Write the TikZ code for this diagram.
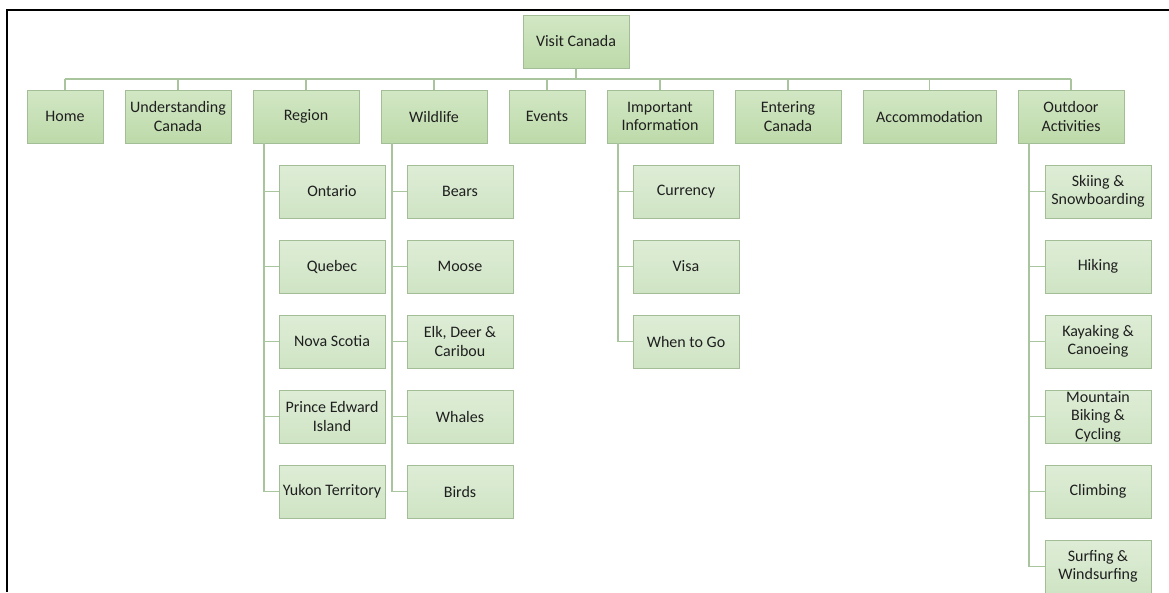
\documentclass[tikz,border=0pt]{standalone}
\usepackage{fontspec}
\setmainfont{Carlito}
\definecolor{boxline}{HTML}{A3BE97}
\definecolor{wire}{HTML}{A9C59D}
\definecolor{topA}{HTML}{D2E7C5}
\definecolor{topB}{HTML}{BDDAA9}
\definecolor{subA}{HTML}{DEEDD6}
\definecolor{subB}{HTML}{CFE4C4}
\begin{document}
\begin{tikzpicture}[x=1pt,y=-1pt,
  every node/.style={font=\fontsize{16}{18.5}\selectfont, text=black!88, align=center, inner sep=0pt},
  topbox/.style={draw=boxline, line width=1pt, top color=topA, bottom color=topB, minimum height=53pt, minimum width=106pt},
  subbox/.style={draw=boxline, line width=1pt, top color=subA, bottom color=subB, minimum height=53pt, minimum width=106pt},
  link/.style={draw=wire, line width=1.6pt}]
\useasboundingbox (0,0) rectangle (1169,592);
% frame edges
\draw[line width=2pt] (7,592) -- (7,10) -- (1169,10);

% root
\node[topbox] (root) at (576,41.5) {Visit Canada};

% first level
\node[topbox, minimum width=76pt] (home) at (65,116.5) {Home};
\node[topbox] (underst) at (178,116.5) {Understanding\\Canada};
\node[topbox] (region) at (306,116.5) {Region};
\node[topbox] (wild) at (434,116.5) {Wildlife};
\node[topbox, minimum width=76pt] (events) at (547,116.5) {Events};
\node[topbox] (info) at (660,116.5) {Important\\Information};
\node[topbox] (enter) at (788,116.5) {Entering\\Canada};
\node[topbox, minimum width=133pt] (accom) at (929.5,116.5) {Accommodation};
\node[topbox] (outdoor) at (1071,116.5) {Outdoor\\Activities};

% bus from root to first level
\coordinate (busL) at (65,79);
\coordinate (busR) at (1071,79);
\coordinate (busM) at (576,79);
\draw[link] (root.south) -- (busM);
\draw[link] (busL) -- (busR);
\foreach \n in {home,underst,region,wild,events,info,enter,accom,outdoor}
  \draw[link] (\n.north) -- (\n.north |- busM);

% Region children
\node[subbox] (ont) at (332,191.5) {Ontario};
\node[subbox] (que) at (332,266.5) {Quebec};
\node[subbox] (nova) at (332,341.5) {Nova Scotia};
\node[subbox] (pei) at (332,416.5) {Prince Edward\\Island};
\node[subbox] (yuk) at (332,491.5) {Yukon Territory};

% Wildlife children
\node[subbox] (bears) at (460,191.5) {Bears};
\node[subbox] (moose) at (460,266.5) {Moose};
\node[subbox] (elk) at (460,341.5) {Elk, Deer \&\\Caribou};
\node[subbox] (whales) at (460,416.5) {Whales};
\node[subbox] (birds) at (460,491.5) {Birds};

% Important Information children
\node[subbox] (curr) at (686,191.5) {Currency};
\node[subbox] (visa) at (686,266.5) {Visa};
\node[subbox] (when) at (686,341.5) {When to Go};

% Outdoor Activities children
\node[subbox] (ski) at (1098,191.5) {Skiing \&\\Snowboarding};
\node[subbox] (hike) at (1098,266.5) {Hiking};
\node[subbox] (kayak) at (1098,341.5) {Kayaking \&\\Canoeing};
\node[subbox] (bike) at (1098,416.5) {Mountain\\Biking \&\\Cycling};
\node[subbox] (climb) at (1098,491.5) {Climbing};
\node[subbox] (surf) at (1098,566.5) {Surfing \&\\Windsurfing};

% vertical spines
\coordinate (sR) at (264,143);
\coordinate (sW) at (392,143);
\coordinate (sI) at (618,143);
\coordinate (sO) at (1029,143);
\draw[link] (sR) -- (sR |- yuk.west) -- (yuk.west);
\foreach \c in {ont,que,nova,pei} \draw[link] (sR |- \c.west) -- (\c.west);
\draw[link] (sW) -- (sW |- birds.west) -- (birds.west);
\foreach \c in {bears,moose,elk,whales} \draw[link] (sW |- \c.west) -- (\c.west);
\draw[link] (sI) -- (sI |- when.west) -- (when.west);
\foreach \c in {curr,visa} \draw[link] (sI |- \c.west) -- (\c.west);
\draw[link] (sO) -- (sO |- surf.west) -- (surf.west);
\foreach \c in {ski,hike,kayak,bike,climb} \draw[link] (sO |- \c.west) -- (\c.west);
\end{tikzpicture}
\end{document}
